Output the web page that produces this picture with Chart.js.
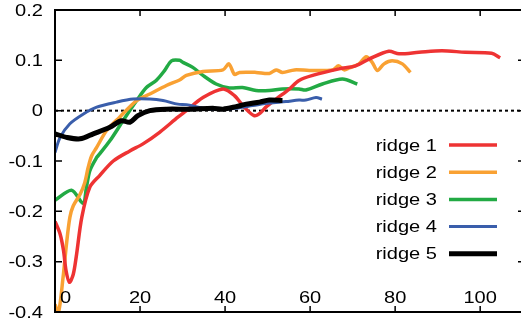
<!DOCTYPE html>
<html>
<head>
<meta charset="utf-8">
<script src="https://cdn.jsdelivr.net/npm/chart.js@4/dist/chart.umd.min.js"></script>
<style>
  html, body { margin: 0; padding: 0; background: #fff; }
  canvas { display: block; }
</style>
</head>
<body>
<canvas id="ridges" width="521" height="327"></canvas>
<script>
// values
const seriesNames = ['ridge 1', 'ridge 2', 'ridge 3', 'ridge 4', 'ridge 5'];
const xTicks = [0, 20, 40, 60, 80, 100];
const yTicks = [0.2, 0.1, 0, -0.1, -0.2, -0.3, -0.4];
const yTickLabels = ['0.2', '0.1', '0', '-0.1', '-0.2', '-0.3', '-0.4'];

const ridge1X = [0, 1.2, 2, 2.6, 3.4, 4.3, 5, 6.3, 8.2, 10.5, 13.7, 17.6, 20.7, 24.6, 28.9, 30.9, 34.8, 39.5, 42.2, 44.5, 46.9, 48.5, 49.6, 52, 55.1, 57.4, 60.6, 66.8, 70.7, 74, 78.5, 80.9, 85.6, 91, 96.5, 102.7, 104.7];
const ridge1Y = [-0.22, -0.245, -0.278, -0.318, -0.341, -0.325, -0.29, -0.212, -0.152, -0.129, -0.1, -0.08, -0.066, -0.043, -0.013, 0, 0.026, 0.043, 0.03, 0.007, -0.01, -0.003, 0.007, 0.023, 0.043, 0.06, 0.07, 0.083, 0.089, 0.103, 0.118, 0.113, 0.116, 0.119, 0.116, 0.114, 0.105];

const ridge2X = [0, 0.8, 1.9, 2.7, 3.5, 4.3, 5.9, 7, 7.8, 8.6, 9.8, 12.1, 15.2, 19.2, 22.3, 26.2, 29.3, 30.9, 34.8, 39.5, 40.9, 42.2, 43.4, 47.3, 50.4, 52, 53.5, 56.3, 59.8, 65.3, 66.7, 68, 69.2, 71.5, 73.2, 74.6, 75.8, 77.4, 79.3, 81.7, 83.6];
const ridge2Y = [-0.385, -0.402, -0.331, -0.265, -0.212, -0.189, -0.166, -0.143, -0.113, -0.09, -0.073, -0.04, -0.013, 0.02, 0.033, 0.05, 0.061, 0.07, 0.078, 0.081, 0.093, 0.072, 0.076, 0.076, 0.074, 0.081, 0.076, 0.081, 0.08, 0.081, 0.089, 0.081, 0.085, 0.093, 0.107, 0.096, 0.08, 0.093, 0.099, 0.093, 0.076];

const ridge3X = [0, 3.9, 6.6, 7.4, 8.2, 9.8, 10.5, 12.9, 16, 19.2, 21.5, 23.8, 25.8, 27.4, 29.3, 30.1, 32.4, 34.8, 37.9, 41, 44.1, 47.3, 50.4, 53.5, 57.4, 59, 62.9, 67.6, 71.1];
const ridge3Y = [-0.178, -0.158, -0.184, -0.152, -0.119, -0.093, -0.086, -0.06, -0.02, 0.02, 0.046, 0.06, 0.08, 0.099, 0.1, 0.096, 0.086, 0.07, 0.053, 0.045, 0.046, 0.04, 0.04, 0.043, 0.043, 0.041, 0.053, 0.063, 0.053];

const ridge4X = [0, 1.2, 3.5, 6.6, 9.8, 14.5, 18.4, 22.3, 25.4, 28.9, 30.9, 34.8, 38.7, 42.6, 46.5, 50.4, 54.3, 57.4, 59, 61.4, 62.8];
const ridge4Y = [-0.083, -0.053, -0.026, -0.007, 0.007, 0.017, 0.023, 0.023, 0.02, 0.013, 0.012, 0.005, 0.003, 0.005, 0.01, 0.015, 0.018, 0.021, 0.021, 0.026, 0.023];

const ridge5X = [0, 2.7, 5.9, 9, 12.9, 15.6, 17.6, 19.5, 22.3, 26.2, 31.7, 37.1, 39.5, 42.6, 45, 48.1, 50.4, 53.5];
const ridge5Y = [-0.046, -0.053, -0.056, -0.046, -0.033, -0.02, -0.023, -0.01, 0, 0.003, 0.003, 0.005, 0.003, 0.008, 0.013, 0.017, 0.021, 0.02];

const seriesX = [ridge1X, ridge2X, ridge3X, ridge4X, ridge5X];
const seriesY = [ridge1Y, ridge2Y, ridge3Y, ridge4Y, ridge5Y];
const colors = ['#ee3333', '#f9a133', '#22aa44', '#3a5eab', '#000000'];
const widths = [3.5, 3.5, 3.5, 3, 5];
const drawOrder = [2, 3, 4, 1, 0];

const FONT = '17px "Liberation Sans", Arial, sans-serif';
const STRETCH = 1.18;

function stretchedText(ctx, text, x, y, align) {
  const w = ctx.measureText(text).width * STRETCH;
  let left = x;
  if (align === 'right') left = x - w;
  else if (align === 'center') left = x - w / 2;
  ctx.save();
  ctx.translate(left, y);
  ctx.scale(STRETCH, 1);
  ctx.textAlign = 'left';
  ctx.fillText(text, 0, 0);
  ctx.restore();
}

// frame, inside ticks, zero line, labels and the key
const framePlugin = {
  id: 'frame',
  beforeDatasetsDraw(chart) {
    const { ctx, chartArea: a, scales: { x, y } } = chart;
    const y0 = y.getPixelForValue(0);
    ctx.save();
    ctx.strokeStyle = '#000';
    ctx.lineWidth = 2;
    ctx.setLineDash([3, 3]);
    ctx.beginPath();
    ctx.moveTo(a.left, y0);
    ctx.lineTo(a.right, y0);
    ctx.stroke();
    ctx.restore();
  },
  afterDraw(chart) {
    const { ctx, chartArea: a, scales: { x, y } } = chart;
    ctx.save();
    ctx.strokeStyle = '#000';
    ctx.lineWidth = 2;
    ctx.beginPath();
    ctx.moveTo(a.left, a.top);
    ctx.lineTo(a.right, a.top);
    ctx.moveTo(a.left, a.top - 1);
    ctx.lineTo(a.left, a.bottom + 1);
    ctx.moveTo(a.left, a.bottom);
    ctx.lineTo(a.right, a.bottom);
    ctx.stroke();

    ctx.lineWidth = 1.5;
    ctx.beginPath();
    xTicks.forEach(v => {
      const px = x.getPixelForValue(v);
      ctx.moveTo(px, a.top);
      ctx.lineTo(px, a.top + 6);
      ctx.moveTo(px, a.bottom);
      ctx.lineTo(px, a.bottom - 6);
    });
    yTicks.forEach(v => {
      const py = y.getPixelForValue(v);
      ctx.moveTo(a.left, py);
      ctx.lineTo(a.left + 7, py);
      ctx.moveTo(a.right - 3, py);
      ctx.lineTo(a.right, py);
    });
    ctx.stroke();

    ctx.fillStyle = '#000';
    ctx.font = FONT;
    ctx.textBaseline = 'middle';
    yTicks.forEach((v, i) => {
      stretchedText(ctx, yTickLabels[i], a.left - 12, y.getPixelForValue(v) + 1, 'right');
    });
    ctx.textBaseline = 'alphabetic';
    xTicks.forEach(v => {
      let px = x.getPixelForValue(v);
      const w = ctx.measureText(String(v)).width * STRETCH;
      px = Math.max(px, a.left + 5 + w / 2);
      stretchedText(ctx, String(v), px, a.bottom - 9, 'center');
    });

    ctx.textBaseline = 'middle';
    seriesNames.forEach((name, i) => {
      const ry = 145 + i * 27.2;
      stretchedText(ctx, name, 437, ry + 1, 'right');
      ctx.strokeStyle = colors[i];
      ctx.lineWidth = widths[i];
      ctx.beginPath();
      ctx.moveTo(449, ry);
      ctx.lineTo(497, ry);
      ctx.stroke();
    });
    ctx.restore();
  }
};

const datasets = seriesNames.map((name, i) => ({
  label: name,
  data: seriesX[i].map((xv, j) => ({ x: xv, y: seriesY[i][j] })),
  borderColor: colors[i],
  borderWidth: widths[i],
  pointRadius: 0,
  tension: 0.3,
  fill: false,
  order: drawOrder[i]
}));

new Chart(document.getElementById('ridges'), {
  type: 'line',
  data: { datasets },
  options: {
    responsive: false,
    animation: false,
    layout: { padding: { left: 55, top: 10, right: 0, bottom: 15 } },
    plugins: { legend: { display: false }, tooltip: { enabled: false } },
    scales: {
      x: { type: 'linear', min: 0, max: 109.6, display: false },
      y: { type: 'linear', min: -0.4, max: 0.2, display: false }
    }
  },
  plugins: [framePlugin]
});
</script>
</body>
</html>
